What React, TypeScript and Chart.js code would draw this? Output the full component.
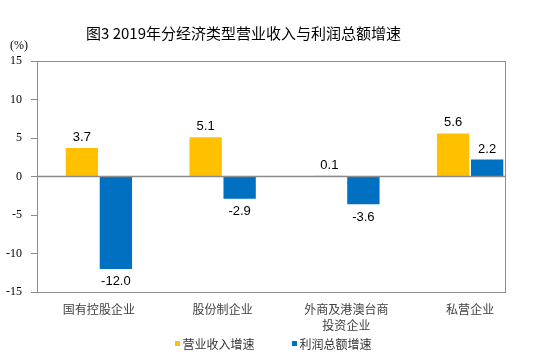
import React, { useEffect, useRef } from "react";
import { Chart, registerables } from "chart.js";

Chart.register(...registerables);

const titleText = "图3 2019年分经济类型营业收入与利润总额增速";
const unitText = "(%)";
const categories: string[][] = [["国有控股企业"], ["股份制企业"], ["外商及港澳台商", "投资企业"], ["私营企业"]];
const seriesNames = ["营业收入增速", "利润总额增速"];
const revenueGrowth = [3.7, 5.1, 0.1, 5.6];
const profitGrowth = [-12.0, -2.9, -3.6, 2.2];
const seriesColors = ["#FFC000", "#0070C0"];
const yMin = -15;
const yMax = 15;
const yStep = 5;

const CJK = '"Noto Sans CJK SC", "Noto Sans", sans-serif';
const SANS = '"Liberation Sans", Arial, sans-serif';
const SERIF = '"Liberation Serif", "Times New Roman", serif';

const decorPlugin = {
  id: "decor",
  beforeDatasetsDraw(chart: any) {
    const { ctx, chartArea } = chart;
    const left = chartArea.left;
    const right = chartArea.right - 26;
    ctx.save();
    ctx.strokeStyle = "#8c8c8c";
    ctx.lineWidth = 1;
    ctx.strokeRect(left + 0.5, chartArea.top + 0.5, right - left - 1, chartArea.bottom - chartArea.top);
    ctx.restore();
  },
  afterDatasetsDraw(chart: any) {
    const { ctx, chartArea, scales } = chart;
    const left = chartArea.left;
    const right = chartArea.right - 26;
    const y0 = scales.y.getPixelForValue(0);
    ctx.save();
    ctx.strokeStyle = "#8c8c8c";
    ctx.lineWidth = 1.5;
    ctx.beginPath();
    ctx.moveTo(left, y0);
    ctx.lineTo(right, y0);
    ctx.stroke();

    // data labels
    ctx.fillStyle = "#000";
    ctx.font = `13px ${SANS}`;
    ctx.textAlign = "center";
    ctx.textBaseline = "alphabetic";
    chart.data.datasets.forEach((ds: any, di: number) => {
      const meta = chart.getDatasetMeta(di);
      meta.data.forEach((bar: any, i: number) => {
        const v = ds.data[i] as number;
        const txt = v.toFixed(1);
        if (v >= 0) {
          ctx.fillText(txt, bar.x, bar.y - 7);
        } else {
          ctx.fillText(txt, bar.x, bar.y + 16.5);
        }
      });
    });

    ctx.restore();
  },
  afterDraw(chart: any) {
    const { ctx } = chart;
    ctx.save();
    // title
    ctx.fillStyle = "#000";
    ctx.font = `15px ${CJK}`;
    ctx.textAlign = "left";
    ctx.textBaseline = "middle";
    ctx.fillText(titleText, 86, 33);
    // unit
    ctx.font = `12px ${SERIF}`;
    ctx.textAlign = "center";
    ctx.fillText(unitText, 19, 46);
    // legend
    const items = [
      { x: 175, text: seriesNames[0], color: seriesColors[0] },
      { x: 292, text: seriesNames[1], color: seriesColors[1] },
    ];
    ctx.font = `12px ${CJK}`;
    ctx.textAlign = "left";
    items.forEach((it) => {
      ctx.fillStyle = it.color;
      ctx.fillRect(it.x, 341, 5, 5);
      ctx.fillStyle = "#333";
      ctx.fillText(it.text, it.x + 7.5, 344);
    });
    ctx.restore();
  },
};

export default function App() {
  const ref = useRef<HTMLCanvasElement>(null);
  useEffect(() => {
    if (!ref.current) return;
    const chart = new Chart(ref.current, {
      type: "bar",
      data: {
        labels: categories,
        datasets: [
          { label: seriesNames[0], data: revenueGrowth, backgroundColor: seriesColors[0] },
          { label: seriesNames[1], data: profitGrowth, backgroundColor: seriesColors[1] },
        ],
      },
      options: {
        responsive: false,
        animation: false,
        devicePixelRatio: 1,
        categoryPercentage: 0.55,
        barPercentage: 0.95,
        layout: { padding: { left: 0, right: 18, top: 61, bottom: 0 } },
        plugins: {
          legend: { display: false },
          title: { display: false },
          tooltip: { enabled: false },
        },
        scales: {
          x: {
            grid: { display: false, drawTicks: false },
            border: { display: false },
            ticks: {
              padding: 10,
              color: "#404040",
              font: { family: CJK, size: 12, lineHeight: 1.3 },
              maxRotation: 0,
              autoSkip: false,
            },
            afterFit: (s: any) => {
              s.height = 68;
            },
          },
          y: {
            min: yMin,
            max: yMax,
            grid: { drawOnChartArea: false, drawTicks: true, tickLength: 6, color: "#8c8c8c" },
            border: { display: false },
            ticks: {
              stepSize: yStep,
              padding: 9,
              color: "#000",
              font: { family: SERIF, size: 12 },
            },
            afterFit: (s: any) => {
              s.width = 37;
            },
          },
        },
      },
      plugins: [decorPlugin],
    });
    return () => chart.destroy();
  }, []);
  return (
    <div style={{ position: "absolute", left: 0, top: 0, width: 550, height: 360, background: "#fff" }}>
      <canvas ref={ref} width={550} height={360} />
    </div>
  );
}
